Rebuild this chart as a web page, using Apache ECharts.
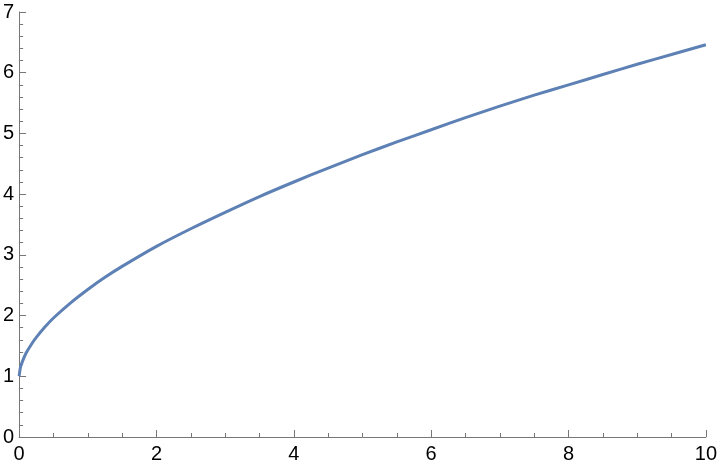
<!DOCTYPE html>
<html>
<head>
<meta charset="utf-8">
<script src="https://cdn.jsdelivr.net/npm/echarts@6/dist/echarts.min.js"></script>
<style>
  html, body { margin: 0; padding: 0; background: #fff; }
  #chart { width: 720px; height: 472px; }
</style>
</head>
<body>
<div id="chart"></div>
<script>
// values
var xValues = [0, 0.02, 0.05, 0.1, 0.175, 0.25, 0.375, 0.5, 0.75, 1, 1.25, 1.5, 2, 2.5, 3, 3.5, 4, 4.5, 5, 5.5, 6, 6.5, 7, 7.5, 8, 8.5, 9, 9.5, 10]
var yValues = [1.0, 1.15, 1.25, 1.38, 1.52, 1.64, 1.81, 1.96, 2.21, 2.43, 2.63, 2.81, 3.14, 3.43, 3.70, 3.96, 4.20, 4.43, 4.65, 4.86, 5.06, 5.26, 5.45, 5.63, 5.80, 5.97, 6.14, 6.30, 6.46]

var points = xValues.map(function (x, i) { return [x, yValues[i]] })

var axisColor = '#777'
var labelStyle = { color: '#000', fontSize: 20, fontFamily: 'Liberation Sans' }

var chart = echarts.init(document.getElementById('chart'))
chart.setOption({
  animation: false,
  grid: { left: 17, right: 13, top: 12, bottom: 35 },
  xAxis: {
    type: 'value',
    min: 0,
    max: 10,
    interval: 2,
    axisLine: { show: true, onZero: false, lineStyle: { color: axisColor, width: 1 } },
    axisTick: { show: true, inside: true, length: 7, lineStyle: { color: axisColor } },
    minorTick: { show: true, splitNumber: 4, length: 4, lineStyle: { color: axisColor } },
    axisLabel: Object.assign({ margin: 7 }, labelStyle),
    splitLine: { show: false }
  },
  yAxis: {
    type: 'value',
    min: 0,
    max: 7,
    interval: 1,
    axisLine: { show: true, onZero: false, lineStyle: { color: axisColor, width: 1 } },
    axisTick: { show: true, inside: true, length: 7, lineStyle: { color: axisColor } },
    minorTick: { show: true, splitNumber: 5, length: 4, lineStyle: { color: axisColor } },
    axisLabel: Object.assign({ margin: 5 }, labelStyle),
    splitLine: { show: false }
  },
  series: [{
    type: 'line',
    data: points,
    smooth: 0.25,
    showSymbol: false,
    lineStyle: { color: '#5E81B5', width: 3 }
  }]
})
</script>
</body>
</html>
